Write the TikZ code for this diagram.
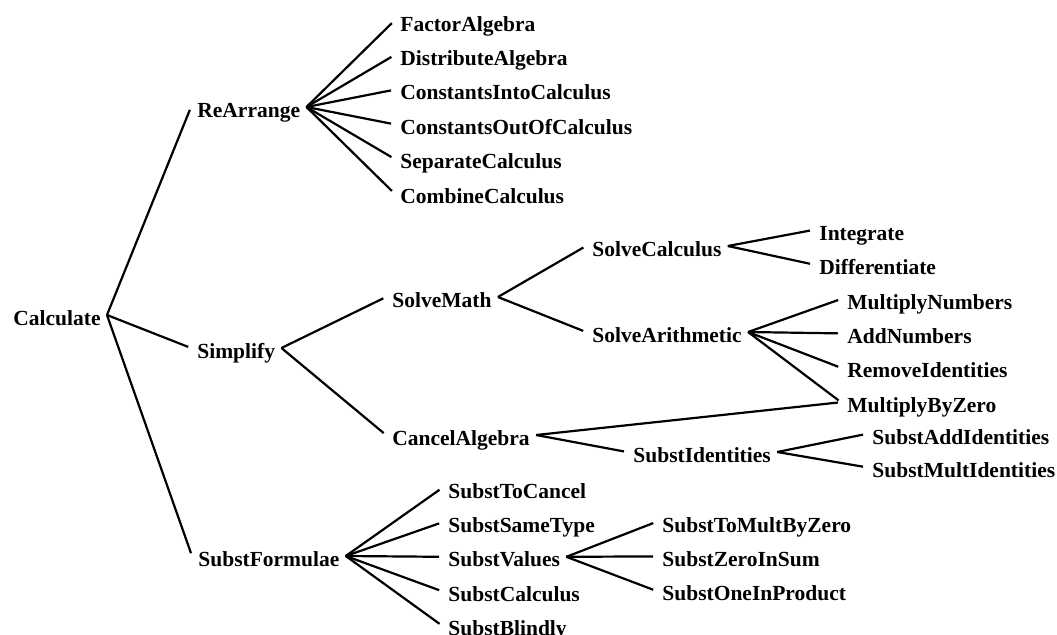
\documentclass[tikz,border=0pt]{standalone}
\usepackage{fontspec}
\setmainfont{Liberation Serif}
\usetikzlibrary{positioning}

\begin{document}
\begin{tikzpicture}[x=0.5pt,y=-0.5pt,
 goal/.style={anchor=west,inner xsep=3pt,inner ysep=0pt,text height=10pt,
   text depth=0pt,font=\fontsize{10.75}{12}\selectfont\bfseries},
 link/.style={line width=1.1pt,shorten >=1.5pt},node distance=17.2pt]
 \useasboundingbox[fill=white] (0,0) rectangle (1057,634);
 \node[goal] (calc) at (7,315) {Calculate};
 \node[goal] (rearr) at (191,107) {ReArrange};
 \node[goal] (simp) at (191,348) {Simplify};
 \node[goal] (substf) at (192,556) {SubstFormulae};
 % rearranging methods
 \node[goal] (factor) at (394,21) {FactorAlgebra};
 \node[goal,below=of factor.west,anchor=west] (distrib) {DistributeAlgebra};
 \node[goal,below=of distrib.west,anchor=west] (constin) {ConstantsIntoCalculus};
 \node[goal,below=of constin.west,anchor=west] (constout) {ConstantsOutOfCalculus};
 \node[goal,below=of constout.west,anchor=west] (separate) {SeparateCalculus};
 \node[goal,below=of separate.west,anchor=west] (combine) {CombineCalculus};
 % simplifying methods
 \node[goal] (solvemath) at (386,297) {SolveMath};
 \node[goal] (cancel) at (386,435) {CancelAlgebra};
 \node[goal] (solvecalc) at (586,246) {SolveCalculus};
 \node[goal] (solvearith) at (586,332) {SolveArithmetic};
 \node[goal] (integ) at (813,230) {Integrate};
 \node[goal,below=of integ.west,anchor=west] (diff) {Differentiate};
 \node[goal] (multnum) at (841,299) {MultiplyNumbers};
 \node[goal,below=of multnum.west,anchor=west] (addnum) {AddNumbers};
 \node[goal,below=of addnum.west,anchor=west] (removeid) {RemoveIdentities};
 \node[goal,below=of removeid.west,anchor=west] (byzero) {MultiplyByZero};
 \node[goal] (substid) at (627,452) {SubstIdentities};
 \node[goal] (substadd) at (866,434) {SubstAddIdentities};
 \node[goal,below=16.6pt of substadd.west,anchor=west] (substmult) {SubstMultIdentities};
 % substitution methods
 \node[goal] (tocancel) at (442,488) {SubstToCancel};
 \node[goal,below=of tocancel.west,anchor=west] (sametype) {SubstSameType};
 \node[goal,below=of sametype.west,anchor=west] (values) {SubstValues};
 \node[goal,below=of values.west,anchor=west] (substcalc) {SubstCalculus};
 \node[goal,below=of substcalc.west,anchor=west] (blindly) {SubstBlindly};
 \node[goal] (tomult) at (656,522) {SubstToMultByZero};
 \node[goal,below=of tomult.west,anchor=west] (zerosum) {SubstZeroInSum};
 \node[goal,below=of zerosum.west,anchor=west] (oneprod) {SubstOneInProduct};
 \draw[link] (calc.east)--(rearr.west);
 \draw[link] (calc.east)--(simp.west);
 \draw[link] (calc.east)--(substf.west);
 \draw[link] (rearr.east)--(factor.west);
 \draw[link] (rearr.east)--(distrib.west);
 \draw[link] (rearr.east)--(constin.west);
 \draw[link] (rearr.east)--(constout.west);
 \draw[link] (rearr.east)--(separate.west);
 \draw[link] (rearr.east)--(combine.west);
 \draw[link] (simp.east)--(solvemath.west);
 \draw[link] (simp.east)--(cancel.west);
 \draw[link] (solvemath.east)--(solvecalc.west);
 \draw[link] (solvemath.east)--(solvearith.west);
 \draw[link] (solvecalc.east)--(integ.west);
 \draw[link] (solvecalc.east)--(diff.west);
 \draw[link] (solvearith.east)--(multnum.west);
 \draw[link] (solvearith.east)--(addnum.west);
 \draw[link] (solvearith.east)--(removeid.west);
 \draw[link] (solvearith.east)--(byzero.west);
 \draw[link] (cancel.east)--(byzero.west);
 \draw[link] (cancel.east)--(substid.west);
 \draw[link] (substid.east)--(substadd.west);
 \draw[link] (substid.east)--(substmult.west);
 \draw[link] (substf.east)--(tocancel.west);
 \draw[link] (substf.east)--(sametype.west);
 \draw[link] (substf.east)--(values.west);
 \draw[link] (substf.east)--(substcalc.west);
 \draw[link] (substf.east)--(blindly.west);
 \draw[link] (values.east)--(tomult.west);
 \draw[link] (values.east)--(zerosum.west);
 \draw[link] (values.east)--(oneprod.west);
\end{tikzpicture}
\end{document}
